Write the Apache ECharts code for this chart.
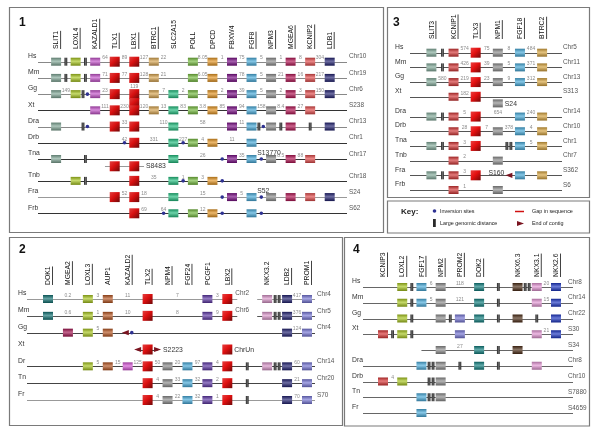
<!DOCTYPE html>
<html><head><meta charset="utf-8">
<script src="https://cdn.jsdelivr.net/npm/echarts@6/dist/echarts.min.js"></script>
<style>html,body{margin:0;padding:0;background:#fff}#c{width:600px;height:433px}</style>
</head><body><div id="c"></div>
<script>
// ================= DATA =================
// Slot notation per row: one token per slot, alternating gene column / gap between columns.
// '.' empty, 'G' gene box, 'G2' gene box duplicated, numbers = distances,
// '|' large genomic distance, '||' double, 'o' inversion site, '<' '>' end of contig,
// '[' ']' line start/end, 'a:' 'r:' 'l:' 'c:' contig labels.
const genes1 = ['SLIT1','LOXL4','KAZALD1','TLX1','LBX1','BTRC1','SLC2A15','POLL','DPCD','FBXW4','FGF8','NPM3','MGEA6','KCNIP2','LDB1'];
const plain1 = ['SLC2A15','POLL','DPCD','FBXW4'];
const species1 = ['Hs','Mm','Gg','Xt','Dra','Drb','Tna','','Tnb','Fra','Frb'];
const chroms1 = ['Chr10','Chr19','Chr6','S238','Chr13','Chr1','Chr17','','Chr18','S24','S62'];
const rows1 = [
 'G | G | G 64 G 89 G 127 G 22 . . G 8.05 G 1 G 75 G 5 G 1 G 8 G 304 G',
 'G | G | G 71 G 77 G 128 G 21 . . G 6.05 G . G 78 G 5 G 21 G 16 G 217 G',
 'G 149 G |+o G 23 G . G2+119 . G 7 G 2 G . G 2 G 39 G 5 G 2 G 3 G 150 G',
 '. . . . G 111 G 230 G 120 G 13 G 83 G 3.8 G 85 G 94 G 158 G 8.4 G 27 G . .',
 'G . . |+o . . G 33 G . . 110 G . . 58 . . G 11 G |+o G | G . | . G',
 '. . . . . . . 42+o G . 331 . G o+227 G 4 G . 11 . G . . . . . . . .',
 'G . . | . . . . . . . . G . . 26 . o G 35 G o+a:S13770 G 8.5 G 88 G . .',
 '. . . . . [ G . G ]+r:S8483 . . . . . . . . . . . . . . . . . . .',
 '. . G | . . . . G . 35 . G o+1 G 3 G o . . . . . . . . . . .',
 '. . . . . . G 52 G 18 . . G . . 15 . o G 5 G o+a:S52 G . G . G . G',
 '. . . . . . . . G 69 . o+64 G . G 12 G o . . G o . . . . . . .'
];

const genes2 = ['DOK1','MGEA2','LOXL3','AUP1','KAZALD2','TLX2','NPM4','FGF24','PCGF1','LBX2','','NKX3.2','LDB2','PROM1'];
const plain2 = ['AUP1','PCGF1','NKX3.2'];
const species2 = ['Hs','Mm','Gg','Xt','Dr','Tn','Fr'];
const chroms2 = ['Chr4','Chr5','Chr4','','Chr14','Chr20','S70'];
const rows2 = [
 'G . 0.2 . G 3 G . 11 . G . . 7 . . G 3 G ]+c:Chr2 . [ G || G 417 G',
 'G . 0.6 . G 1 G . 10 . G . . 8 . . G 9 G ]+c:Chr6 . [ G || G 376 G',
 '. . G . G 5 G . <+o . . . . . . . . . . . . . . . G 124 G',
 '. . . . . . . . . <+[ G ]+>+r:S2223 . . . . . . G+r:ChrUn . . . . . . . .',
 '. . . . G 5 G 15 G 125 G 50 G 20 G 97 G 4 G . | . G || G 60 G',
 '. . . . . . . . . . G 4 G 33 G 32 G 2 G . | . . . G 21 G',
 '. . . . . . . . . . G 4 G 22 G 32 G 1 G . | . . . G 70 G'
];

const genes3 = ['SLIT3','KCNIP1','TLX3','NPM1','FGF18','BTRC2'];
const plain3 = [];
const species3 = ['Hs','Mm','Gg','Xt','','Dra','Drb','Tna','Tnb','Fra','Frb'];
const chroms3 = ['Chr5','Chr11','Chr13','S313','','Chr14','Chr10','Chr1','Chr7','S362','S6'];
const rows3 = [
 'G | G 574 G 75 G 8 G 484 G',
 'G | G 426 G 39 G 5 G 371 G',
 'G 580 G 219 G 23 G 9 G 312 G',
 '. . G 182 G . . . . . .',
 '. . . . . . [+]+G+r:S24 . . . .',
 'G | G 5 G . 654 . G 240 G',
 '. . G 28 G 7 G 378 G 4 G',
 'G | G 3 G . . || G 5 G',
 '. . G 2 . . G . . . .',
 'G | G 3 G . . <+l:S160 G . G',
 '. . G 1 . . G . . . .'
];

const genes4 = ['KCNIP3','LOXL2','FGF17','NPM2','PROM2','DOK2','','NKX6.3','NKX3.1','NKX2.6'];
const plain4 = ['NKX6.3'];
const species4 = ['Hs','Mm','Gg','Xt','','Dra','Drb','Tn','Fr'];
const chroms4 = ['Chr8','Chr14','Chr22','S30','S34','Chr8','Chr10','S7880','S4659'];
const rows4 = [
 '. . G | G 6 G . 118 . G . | . G || G 20 G',
 '. . G | G 5 G . 121 . G . | . . . G 15 G',
 '. . G | . . G | G . G . | . G . | . G',
 'G | G | . . . . G . . . . . . . G 21 G',
 '. . . . [ . G . 27 . G . | . G . . . .',
 '. . . . G || G . | . G . | . . . G . .',
 'G 4 G . . || G . . . . . . . . . . . .',
 '. . . . G || G . . . . . . . . . . . .',
 '. . . . G . . . . . . . . . . . . . .'
];

// ================= STYLE =================
const COLORS = {
 SLIT1:'#7fa695', LOXL4:'#a6c41c', KAZALD1:'#c24ec8', TLX1:'#d81010', LBX1:'#d81010', BTRC1:'#d6a24c',
 SLC2A15:'#1fbc7c', POLL:'#72b83a', DPCD:'#e2921e', FBXW4:'#760a82', FGF8:'#45a9d9', NPM3:'#8c8c8c',
 MGEA6:'#b01050', KCNIP2:'#e04848', LDB1:'#1e1e6e',
 DOK1:'#0e6f70', MGEA2:'#a3124f', LOXL3:'#a6c41c', AUP1:'#b4531e', KAZALD2:'#d452d4', TLX2:'#dc1010',
 NPM4:'#8c8c8c', FGF24:'#45a9d9', PCGF1:'#5b34a2', LBX2:'#e01010', 'NKX3.2':'#d894c8', LDB2:'#1e1e6e', PROM1:'#7474d4',
 SLIT3:'#82aa9a', KCNIP1:'#d23232', TLX3:'#e41010', NPM1:'#8c8c8c', FGF18:'#45a9d9', BTRC2:'#d6a23c',
 KCNIP3:'#d83232', LOXL2:'#a6c41c', FGF17:'#48aada', NPM2:'#8c8c8c', PROM2:'#7474d4', DOK2:'#0e7c7c',
 'NKX6.3':'#4a2a14', 'NKX3.1':'#e294d2', 'NKX2.6':'#1a34c2'
};
const RED = ['TLX1','LBX1','TLX2','LBX2','TLX3'];
const FONT = '"Liberation Sans", Arial, Helvetica, sans-serif';
const font = (s, w) => (w ? w + ' ' : '') + s + 'px ' + FONT;

const L1 = {x0:56.1, x1:329.7, y0:61.7, y1:213.3, speciesX:28, lineStart:38, lineEnd:347, chrX:349, labelBottom:49};
const L2 = {x0:48, x1:307, y0:299, y1:400, speciesX:18, lineStart:27, lineEnd:315, chrX:317, labelBottom:285};
const L3 = {x0:431.4, x1:542.1, y0:52.7, y1:190, speciesX:395, lineStart:410, lineEnd:562, chrX:563, labelBottom:39};
const L4 = {x0:383, x1:556, y0:287, y1:413, speciesX:352, lineStart:363, lineEnd:573, chrX:568, labelBottom:277};
const tone1 = ['#888','#888','#888','#333','#888','#333','#333','#999','#333','#999','#333'];
const tone2 = ['#999','#555','#444','#444','#444','#444','#999'];
const tone3 = species3.map(() => '#555');
const tone4 = species4.map(() => '#666');

// ================= HELPERS =================
function shade(hex, f) {
  const n = parseInt(hex.slice(1), 16);
  let c = [n >> 16, (n >> 8) & 255, n & 255];
  c = c.map(v => f >= 0 ? v + (255 - v) * f : v * (1 + f));
  return 'rgb(' + c.map(v => Math.round(v)).join(',') + ')';
}
function boxFill(c, red) {
  if (red) return new echarts.graphic.LinearGradient(0, 0, 1, 1, [
    {offset:0, color:shade(c, 0.2)}, {offset:0.45, color:c}, {offset:1, color:shade(c, -0.5)}]);
  return new echarts.graphic.LinearGradient(0, 0, 0, 1, [
    {offset:0, color:shade(c, -0.25)}, {offset:0.45, color:shade(c, 0.35)}, {offset:1, color:shade(c, -0.3)}]);
}
const ctx = document.createElement('canvas').getContext('2d');
function textWidth(t, f) { ctx.font = f; return ctx.measureText(t).width; }
function textEl(x, y, text, o) {
  return {type:'text', x:x, y:y, scaleX:o.scaleX || 1, rotation:o.rotation || 0,
    style:{text:text, fill:o.fill || '#222', font:o.font, align:o.align || 'left', verticalAlign:o.va || 'middle'}};
}
const MARK_W = {'|':2.8, '||':6.8, 'o':3.6, '<':7, '>':7};
const isNum = t => /^\d+(\.\d+)?$/.test(t);
function barEl(cx, y) {
  return {type:'rect', shape:{x:cx - 1.4, y:y - 4, width:2.8, height:8},
    style:{fill:new echarts.graphic.LinearGradient(0, 0, 1, 0, [
      {offset:0, color:'#1e1e1e'}, {offset:0.5, color:'#6a6a6a'}, {offset:1, color:'#1e1e1e'}])}};
}
function triEl(cx, y, dir) {
  const p = dir < 0 ? [[cx - 3.5, y], [cx + 3.5, y - 2.6], [cx + 3.5, y + 2.6]]
                    : [[cx + 3.5, y], [cx - 3.5, y - 2.6], [cx - 3.5, y + 2.6]];
  return {type:'polygon', shape:{points:p}, style:{fill:'#7a1420'}};
}
function boxEl(g, x, y) {
  const red = RED.includes(g);
  const w = 10, h = red ? 10 : 8;
  return {type:'rect', shape:{x:x - w / 2, y:y - h / 2, width:w, height:h}, style:{fill:boxFill(COLORS[g], red)}};
}
function rowPositions(species, chroms) {
  const ys = []; let y = 0;
  species.forEach((sp, i) => {
    if (i > 0) {
      const sub = sp === '' && chroms[i] === '';
      const prevSub = species[i - 1] === '' && chroms[i - 1] === '';
      y += sub ? 0.45 : (prevSub ? 0.9 : 1);
    }
    ys.push(y);
  });
  return ys;
}

function makePanel(genes, plain, species, chroms, rows, L, tone) {
  const nSlots = genes.length * 2 - 1;
  const slots = rows.map((r, i) => {
    const s = r.trim().split(/\s+/).map(t => t === '.' ? [] : t.split('+'));
    if (s.length !== nSlots) throw new Error('Row ' + i + ' of ' + genes[0] + ' has ' + s.length + ' slots, expected ' + nSlots);
    return s;
  });
  return {genes, plain, species, chroms, slots, L, tone, rowY: rowPositions(species, chroms)};
}

function rowRenderer(P) {
  return function (params, api) {
    const i = api.value(2);
    const yv = P.rowY[i], L = P.L, slots = P.slots[i];
    const y = api.coord([0, yv])[1];
    const yl = Math.round(y) + 0.5;
    const sx = s => api.coord([s / 2, yv])[0];
    const lineEls = [], marks = [], boxes = [], texts = [];
    const br = [];
    slots.forEach((items, s) => items.forEach(t => { if (t === '[' || t === ']') br.push([t, s]); }));
    let on = !(br.length && br[0][0] === '[');
    let start = L.lineStart;
    const segs = [];
    br.forEach(([b, s]) => {
      if (b === '[') { on = true; start = sx(s); }
      else { if (on) segs.push([start, sx(s)]); on = false; }
    });
    if (on) segs.push([start, L.lineEnd]);
    segs.forEach(([a, b]) => lineEls.push({type:'line', shape:{x1:a, y1:yl, x2:b, y2:yl},
      style:{stroke:P.tone[i], lineWidth:1}}));

    slots.forEach((items, s) => {
      const x = sx(s);
      const mk = items.filter(t => MARK_W[t] !== undefined);
      const gap = 1.2;
      const total = mk.reduce((a, m) => a + MARK_W[m], 0) + gap * Math.max(0, mk.length - 1);
      let cur = x - total / 2;
      mk.forEach(m => {
        const w = MARK_W[m], cx = cur + w / 2; cur += w + gap;
        if (m === '|') marks.push(barEl(cx, y));
        else if (m === '||') { marks.push(barEl(cx - 2, y)); marks.push(barEl(cx + 2, y)); }
        else if (m === 'o') marks.push({type:'circle', shape:{cx:cx, cy:y, r:1.8}, style:{fill:'#2e3192'}});
        else if (m === '<') marks.push(triEl(cx, y, -1));
        else if (m === '>') marks.push(triEl(cx, y, 1));
      });
      const hasG = items.some(t => t === 'G' || t === 'G2');
      items.forEach(t => {
        if (t === 'G' || t === 'G2') {
          const g = P.genes[s / 2];
          boxes.push(boxEl(g, x, y));
          if (t === 'G2') boxes.push(boxEl(g, x, y + 9));
        } else if (isNum(t)) {
          texts.push(textEl(x, y - (hasG ? 7.5 : 3.6), t, {font:font(5), fill:'#8c8c8c', align:'center'}));
        } else if (t.charAt(1) === ':') {
          const k = t.charAt(0), lab = t.slice(2);
          const lf = font(8);
          if (k === 'a') texts.push(textEl(x - 4, y - 2, lab, {font:lf, fill:'#333', va:'bottom', scaleX:0.85}));
          else if (k === 'r') {
            const lx = mk.length ? x + total / 2 + 2 : (hasG ? x + 7 : x + 2);
            texts.push(textEl(lx, y, lab, {font:lf, fill:'#333', scaleX:0.85}));
          } else if (k === 'l') texts.push(textEl(x - total / 2 - 1, y - 3, lab, {font:lf, fill:'#333', align:'right', scaleX:0.85}));
          else if (k === 'c') texts.push(textEl(x - 2, y - 6, lab, {font:lf, fill:'#555', scaleX:0.8}));
        }
      });
    });
    if (P.species[i]) texts.push(textEl(L.speciesX, y - 6, P.species[i], {font:font(8), fill:'#333', scaleX:0.85}));
    if (P.chroms[i]) texts.push(textEl(L.chrX, y - 5.5, P.chroms[i], {font:font(8), fill:'#555', scaleX:0.8}));
    return {type:'group', children:lineEls.concat(marks, boxes, texts)};
  };
}

function headerRenderer(P) {
  return function (params, api) {
    const i = api.value(0);
    const g = P.genes[i];
    const x = api.coord([i, 0])[0];
    const f = font(8), sc = 0.85;
    const len = textWidth(g, f) * sc;
    const ch = [{type:'text', x:x, y:P.L.labelBottom, rotation:Math.PI / 2, scaleX:sc,
      style:{text:g, font:f, fill:'#111', align:'left', verticalAlign:'middle'}}];
    if (!P.plain.includes(g)) ch.push({type:'line',
      shape:{x1:x + 4.5, y1:P.L.labelBottom, x2:x + 4.5, y2:P.L.labelBottom - len},
      style:{stroke:'#111', lineWidth:0.8}});
    return {type:'group', children:ch};
  };
}

const panels = [
  makePanel(genes1, plain1, species1, chroms1, rows1, L1, tone1),
  makePanel(genes2, plain2, species2, chroms2, rows2, L2, tone2),
  makePanel(genes3, plain3, species3, chroms3, rows3, L3, tone3),
  makePanel(genes4, plain4, species4, chroms4, rows4, L4, tone4)
];

const grid = [], xAxis = [], yAxis = [], series = [];
panels.forEach((P, k) => {
  grid.push({left:P.L.x0, top:P.L.y0, width:P.L.x1 - P.L.x0, height:P.L.y1 - P.L.y0});
  xAxis.push({type:'value', gridIndex:k, min:0, max:P.genes.length - 1, show:false});
  yAxis.push({type:'value', gridIndex:k, min:0, max:P.rowY[P.rowY.length - 1], inverse:true, show:false});
  series.push({type:'custom', xAxisIndex:k, yAxisIndex:k, clip:false, silent:true,
    renderItem:rowRenderer(P), encode:{x:0, y:1},
    data:P.species.map((s, i) => [0, P.rowY[i], i])});
  series.push({type:'custom', xAxisIndex:k, yAxisIndex:k, clip:false, silent:true,
    renderItem:headerRenderer(P), encode:{x:0, y:1},
    data:P.genes.map((g, i) => [i, 0]).filter(d => P.genes[d[0]] !== '')});
});

function frame(x1, y1, x2, y2) {
  return {type:'rect', shape:{x:x1, y:y1, width:x2 - x1, height:y2 - y1},
    style:{fill:'none', stroke:'#7a7a7a', lineWidth:1.2}, silent:true};
}
function gtext(x, y, t, f, o) {
  o = o || {};
  return {type:'text', x:x, y:y, scaleX:o.scaleX || 1,
    style:{text:t, font:f, fill:o.fill || '#222', align:'left', verticalAlign:'middle'}};
}
const keySmall = font(6);
const graphic = [
  frame(9.5, 7.5, 383.5, 232.5),
  frame(387.5, 7.5, 589.5, 197.5),
  frame(387.5, 201, 589.5, 233),
  frame(9.5, 237.5, 342.5, 425.5),
  frame(344.5, 237.5, 589.5, 426),
  gtext(19, 23, '1', font(12, 'bold'), {fill:'#111'}),
  gtext(393, 23, '3', font(12, 'bold'), {fill:'#111'}),
  gtext(19, 250, '2', font(12, 'bold'), {fill:'#111'}),
  gtext(353, 250, '4', font(12, 'bold'), {fill:'#111'}),
  gtext(401, 211.5, 'Key:', font(8, 'bold'), {fill:'#222'}),
  {type:'circle', shape:{cx:434.5, cy:211, r:1.8}, style:{fill:'#2e3192'}},
  gtext(440, 211, 'Inversion sites', keySmall, {scaleX:0.9}),
  {type:'rect', shape:{x:433, y:219, width:2.8, height:8}, style:{fill:'#2a2a2a'}},
  gtext(440, 223, 'Large genomic distance', keySmall, {scaleX:0.9}),
  {type:'line', shape:{x1:515, y1:211.5, x2:524, y2:211.5}, style:{stroke:'#d01010', lineWidth:1.5}},
  gtext(532, 211, 'Gap in sequence', keySmall, {scaleX:0.9}),
  {type:'polygon', shape:{points:[[524, 223.5], [517, 221], [517, 226]]}, style:{fill:'#7a1420'}},
  gtext(532, 223, 'End of contig', keySmall, {scaleX:0.9})
];

const chart = echarts.init(document.getElementById('c'), null, {renderer:'canvas'});
chart.setOption({animation:false, backgroundColor:'#fff', grid, xAxis, yAxis, series, graphic});
</script></body></html>
